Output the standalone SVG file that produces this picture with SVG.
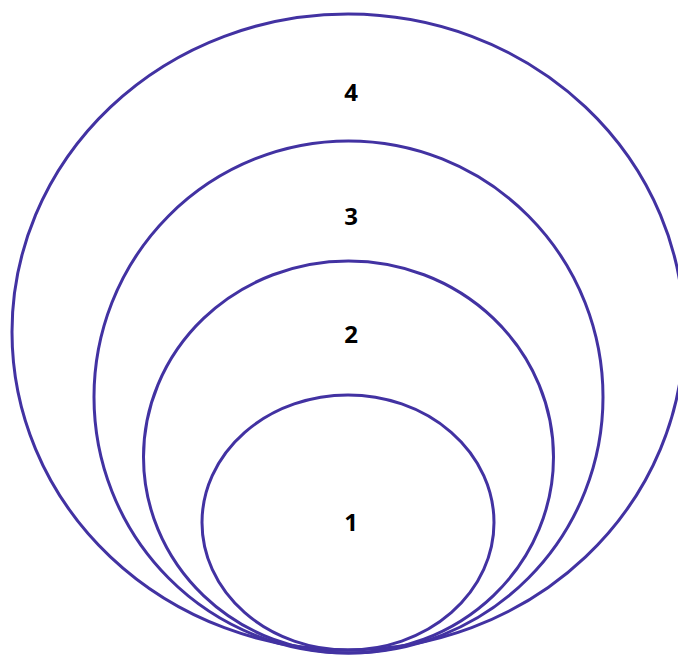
<svg xmlns="http://www.w3.org/2000/svg" width="678" height="656" viewBox="0 0 678 656">
<style>
.ring{fill:none;stroke:#4232a2;stroke-width:3}
.lbl{font-family:"Open Sans","Liberation Sans",sans-serif;font-weight:bold;font-size:24px;fill:#000;text-anchor:middle}
</style>
<rect width="678" height="656" fill="#fff"/>
<g id="n4"><ellipse class="ring" cx="348" cy="332" rx="336" ry="318"/><text class="lbl" x="351" y="101">4</text></g>
<g id="n3"><ellipse class="ring" cx="348.5" cy="397" rx="254.5" ry="256"/><text class="lbl" x="351" y="225">3</text></g>
<g id="n2"><ellipse class="ring" cx="348.5" cy="457" rx="205" ry="196"/><text class="lbl" x="351" y="343">2</text></g>
<g id="n1"><ellipse class="ring" cx="348" cy="522.5" rx="146" ry="127.5"/><text class="lbl" x="351" y="531">1</text></g>
<g id="connectors"/>
</svg>
